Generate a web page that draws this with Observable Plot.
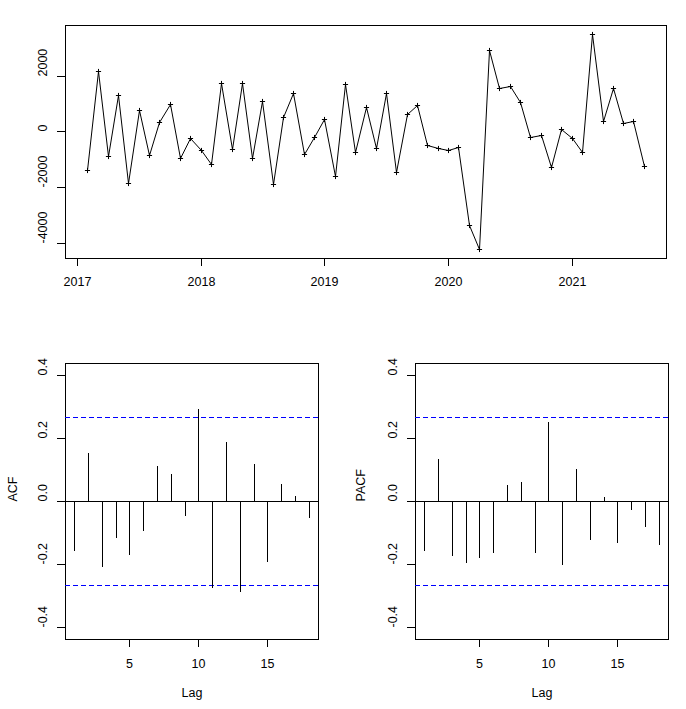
<!DOCTYPE html>
<html><head><meta charset="utf-8">
<script src="https://cdn.jsdelivr.net/npm/d3@7"></script>
<script src="https://cdn.jsdelivr.net/npm/@observablehq/plot@0.6"></script>
<style>
body{margin:0;background:#fff;}
#chart{position:relative;width:686px;height:709px;background:#fff;overflow:hidden;}
#chart svg{position:absolute;}
</style></head><body><div id="chart"></div>
<script>
// Monthly series, Feb 2017 .. Aug 2021
const startYear = 2017;
const startMonth = 2;
const seriesValues = [
  -1405, 2154, -903, 1294, -1871, 756, -857, 315, 961, -964, -258,
  -677, -1190, 1724, -642, 1724, -964, 1079, -1896, 495, 1376, -821, -222,
  434, -1609, 1688, -760, 875, -616, 1366, -1477, 602, 925, -509, -606,
  -688, -570, -3366, -4237, 2932, 1534, 1616, 1054, -222, -140, -1287, 75,
  -237, -749, 3505, 362, 1545, 280, 373, -1251
];
const yearTicks = [2017, 2018, 2019, 2020, 2021];
const seriesTicks = [-4000, -2000, 0, 2000];

const lags = [1,2,3,4,5,6,7,8,9,10,11,12,13,14,15,16,17,18];
const acfValues = [-0.159, 0.153, -0.211, -0.118, -0.171, -0.096, 0.112, 0.086, -0.047,
  0.294, -0.277, 0.188, -0.289, 0.118, -0.194, 0.054, 0.017, -0.053];
const pacfValues = [-0.159, 0.134, -0.174, -0.197, -0.181, -0.165, 0.051, 0.059, -0.167,
  0.250, -0.203, 0.103, -0.124, 0.014, -0.133, -0.028, -0.082, -0.139];
const ciBound = 0.267;
const corrTicks = [-0.4, -0.2, 0.0, 0.2, 0.4];
const lagTicks = [5, 10, 15];

const font = "'Liberation Sans', Arial, sans-serif";
const fs = 12.5;
const chart = document.getElementById("chart");

const series = seriesValues.map((v, i) => ({t: startYear + (startMonth - 1 + i) / 12, v}));

const topPlot = Plot.plot({
  width: 686, height: 300,
  marginLeft: 65, marginRight: 20, marginTop: 25, marginBottom: 42,
  style: {fontFamily: font, fontSize: fs + "px", background: "transparent", overflow: "visible", color: "black"},
  x: {type: "linear", domain: [2016.9033, 2021.7633], round: true},
  y: {domain: [-4547, 3812], round: true},
  marks: [
    Plot.frame({stroke: "black"}),
    Plot.axisX({ticks: yearTicks, tickSize: 8, tickPadding: 11, tickFormat: d => String(d), label: null, fontSize: fs}),
    Plot.axisY({ticks: seriesTicks, tickSize: 8, tickFormat: () => "", label: null}),
    Plot.text(seriesTicks, {y: d => d, text: d => String(d), frameAnchor: "left", dx: -23, rotate: -90, fontSize: fs}),
    Plot.line(series, {x: "t", y: "v", stroke: "black", strokeWidth: 1}),
    Plot.dot(series, {x: "t", y: "v", symbol: "plus", r: 1.8, stroke: "black", strokeWidth: 1})
  ]
});
topPlot.style.left = "0px";
topPlot.style.top = "0px";
chart.appendChild(topPlot);

function corrPlot(vals, label, left, width, marginRight, labelDx) {
  const data = lags.map((l, i) => ({lag: l, v: vals[i]}));
  const p = Plot.plot({
    width, height: 409,
    marginLeft: 65, marginRight, marginTop: 63, marginBottom: 70,
    style: {fontFamily: font, fontSize: fs + "px", background: "transparent", overflow: "visible", color: "black"},
    x: {type: "linear", domain: [0.32, 18.68], round: true},
    y: {domain: [-0.439, 0.439], round: true},
    marks: [
      Plot.frame({stroke: "black"}),
      Plot.ruleY([0], {stroke: "black"}),
      Plot.ruleY([ciBound, -ciBound], {stroke: "#0000FF", strokeWidth: 1, strokeDasharray: "5,3"}),
      Plot.ruleX(data, {x: "lag", y1: 0, y2: "v", stroke: "black", strokeWidth: 1}),
      Plot.axisX({ticks: lagTicks, tickSize: 8, tickPadding: 12, tickFormat: d => String(d), label: null, fontSize: fs}),
      Plot.axisY({ticks: corrTicks, tickSize: 8, tickFormat: () => "", label: null}),
      Plot.text(corrTicks, {y: d => d, text: d => d.toFixed(1), frameAnchor: "left", dx: -23, rotate: -90, fontSize: fs}),
      Plot.text([label], {text: d => d, frameAnchor: "left", dx: labelDx, rotate: -90, fontSize: fs}),
      Plot.text(["Lag"], {text: d => d, frameAnchor: "bottom", dy: 57, fontSize: fs})
    ]
  });
  p.style.left = left + "px";
  p.style.top = "300px";
  return p;
}
chart.appendChild(corrPlot(acfValues, "ACF", 0, 343, 25, -53));
chart.appendChild(corrPlot(pacfValues, "PACF", 350, 336, 18, -55));
</script>
</body></html>
